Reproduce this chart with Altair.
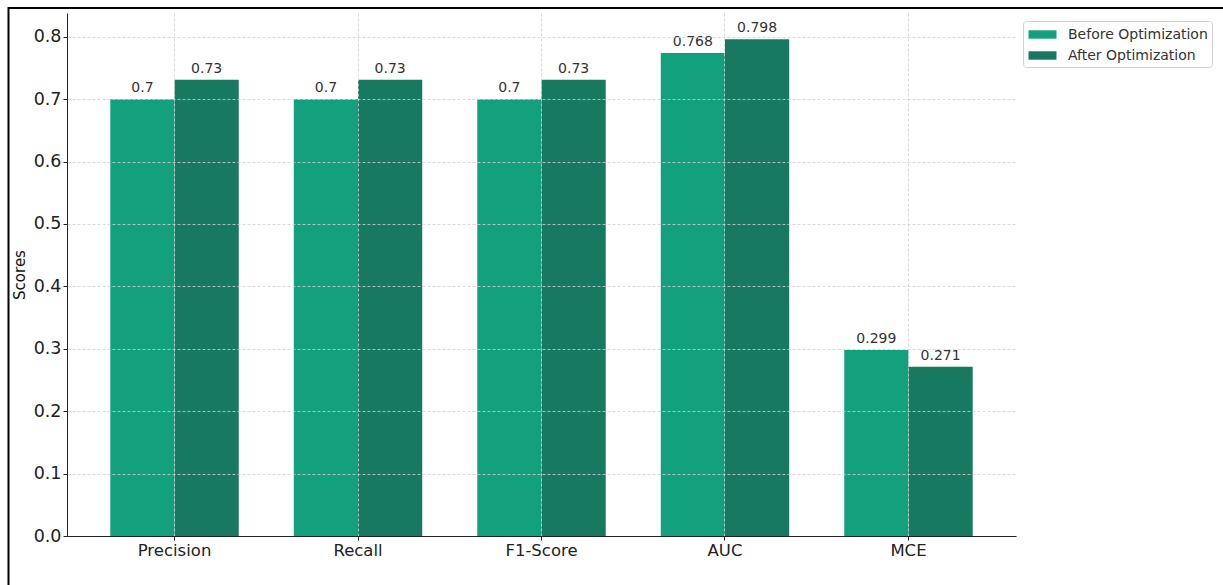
import altair as alt
import pandas as pd

categories = ["Precision", "Recall", "F1-Score", "AUC", "MCE"]
groups = ["Before Optimization", "After Optimization"]
before_values = [0.70, 0.70, 0.70, 0.774, 0.298]
after_values = [0.731, 0.731, 0.731, 0.796, 0.271]
before_labels = ["0.7", "0.7", "0.7", "0.768", "0.299"]
after_labels = ["0.73", "0.73", "0.73", "0.798", "0.271"]
colors = ["#12a07d", "#177a60"]

rows = []
for c, v, l in zip(categories, before_values, before_labels):
    rows.append({"metric": c, "group": groups[0], "value": v, "label": l})
for c, v, l in zip(categories, after_values, after_labels):
    rows.append({"metric": c, "group": groups[1], "value": v, "label": l})
df = pd.DataFrame(rows)

FONT = "DejaVu Sans"
W, H = 949, 523

x_enc = alt.X(
    "metric:N", sort=categories,
    scale=alt.Scale(paddingInner=0.3, paddingOuter=0.236),
    axis=alt.Axis(title=None, labelAngle=0, labelFontSize=16.5, labelFont=FONT,
                  labelColor="#222", tickSize=4, tickColor="#222", labelPadding=2,
                  domainColor="#222", grid=True, gridDash=[3, 2], gridColor="#d0d0d0",
                  gridWidth=0.8, zindex=1),
)
xoff = alt.XOffset("group:N", sort=groups, scale=alt.Scale(paddingInner=0, paddingOuter=0))
y_enc = alt.Y(
    "value:Q",
    scale=alt.Scale(domain=[0, 0.838], nice=False, zero=True),
    axis=alt.Axis(title="Scores", titleFont=FONT, titleFontSize=15, titleFontWeight="normal",
                  titleColor="#111", titlePadding=6,
                  values=[0, 0.1, 0.2, 0.3, 0.4, 0.5, 0.6, 0.7, 0.8], format=".1f",
                  labelFontSize=17.5, labelFont=FONT, labelColor="#222", labelPadding=2,
                  tickSize=4, tickColor="#222", domainColor="#222",
                  grid=True, gridDash=[3, 2], gridColor="#d0d0d0", gridWidth=0.8, zindex=1),
)

bars = alt.Chart(df).mark_bar().encode(
    x=x_enc, xOffset=xoff, y=y_enc,
    color=alt.Color("group:N", sort=groups,
                    scale=alt.Scale(domain=groups, range=colors),
                    legend=alt.Legend(title=None, orient="none", legendX=956, legendY=8,
                                      labelFont=FONT, labelFontSize=14, labelColor="#333",
                                      symbolType="M-1.5,-0.45L1.5,-0.45L1.5,0.45L-1.5,0.45Z",
                                      symbolSize=348, symbolStrokeWidth=0, symbolOpacity=1,
                                      symbolOffset=6, rowPadding=4, labelOffset=16,
                                      padding=4, fillColor="white", strokeColor="#d0d0d0",
                                      cornerRadius=3)),
)

text = alt.Chart(df).mark_text(baseline="bottom", dy=-4, font=FONT, fontSize=14, color="#333").encode(
    x=alt.X("metric:N", sort=categories), xOffset=alt.XOffset("group:N", sort=groups),
    y="value:Q", text="label:N",
)

border_df = pd.DataFrame({"k": [0]})
top_border = alt.Chart(border_df).mark_rule(color="black", strokeWidth=2).encode(
    x=alt.value(-59), x2=alt.value(1160), y=alt.value(-5))
left_border = alt.Chart(border_df).mark_rule(color="black", strokeWidth=2).encode(
    x=alt.value(-58.5), y=alt.value(-6), y2=alt.value(580))

chart = alt.layer(bars, text, top_border, left_border).properties(
    width=W, height=H,
    autosize=alt.AutoSizeParams(type="none"),
    padding={"left": 67, "top": 13, "right": 207, "bottom": 49},
    background="white",
).configure_view(stroke=None)

chart.save("out.html", embed_options={"renderer": "svg", "actions": False})
